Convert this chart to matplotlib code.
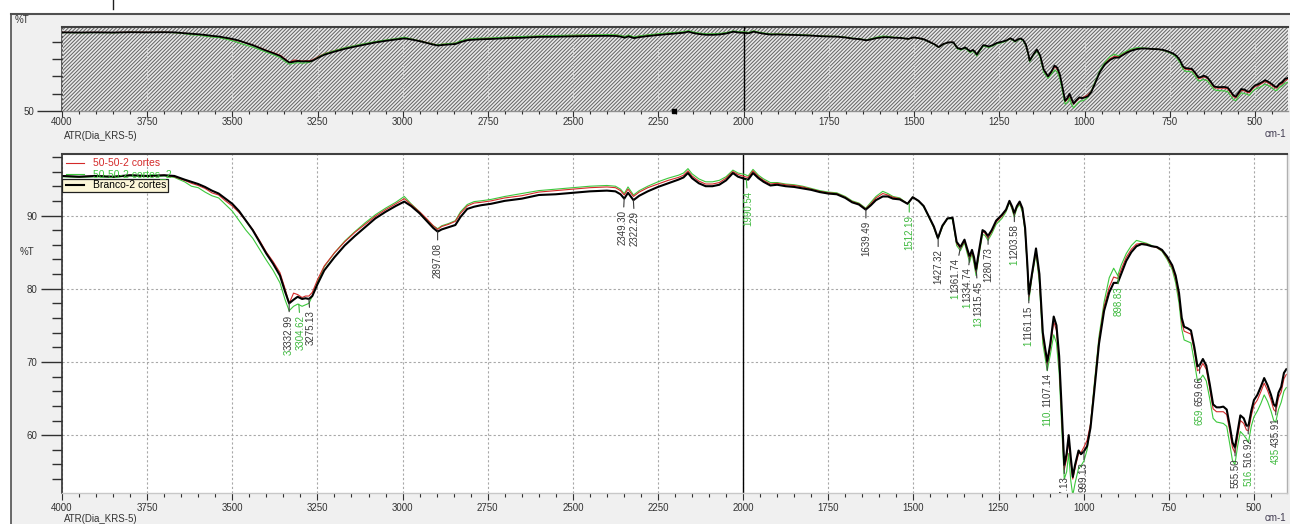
import matplotlib
matplotlib.use('Agg')
import matplotlib.pyplot as plt
import matplotlib.text as mtext
from matplotlib.patches import Rectangle
from matplotlib.lines import Line2D
from matplotlib.ticker import MultipleLocator, FixedLocator, NullFormatter
from matplotlib.transforms import IdentityTransform

plt.rcParams['font.family'] = ['Liberation Sans', 'DejaVu Sans']
plt.rcParams['hatch.linewidth'] = 0.7

# numero de onda (cm-1)
wavenumber = [
    4000, 3950, 3900, 3850, 3800, 3750, 3700, 3670, 3640, 3620,
    3600, 3580, 3560, 3540, 3520, 3500, 3480, 3460, 3440, 3420,
    3400, 3380, 3360, 3345, 3333, 3320, 3308, 3295, 3285, 3275,
    3265, 3250, 3230, 3200, 3170, 3140, 3110, 3080, 3050, 3020,
    2995, 2975, 2950, 2930, 2910, 2897, 2885, 2865, 2845, 2830,
    2810, 2790, 2770, 2740, 2700, 2650, 2600, 2550, 2500, 2450,
    2400, 2375, 2360, 2349, 2338, 2322, 2305, 2280, 2250, 2220,
    2190, 2175, 2162, 2150, 2130, 2110, 2090, 2070, 2050, 2030,
    2015, 1995, 1985, 1971, 1955, 1940, 1920, 1900, 1875, 1850,
    1825, 1800, 1775, 1750, 1725, 1700, 1680, 1660, 1640, 1625,
    1610, 1590, 1575, 1560, 1540, 1517, 1502, 1485, 1470, 1455,
    1440, 1428, 1415, 1400, 1385, 1373, 1362, 1350, 1343, 1335,
    1328, 1322, 1316, 1308, 1297, 1290, 1281, 1270, 1257, 1240,
    1228, 1218, 1210, 1204, 1196, 1188, 1180, 1172, 1165, 1161,
    1152, 1140, 1130, 1120, 1107, 1098, 1088, 1080, 1072, 1065,
    1057, 1050, 1044, 1038, 1032, 1025, 1015, 1008, 999, 990,
    980, 970, 955, 940, 925, 912, 900, 890, 875, 860,
    845, 830, 815, 800, 785, 770, 755, 740, 730, 720,
    712, 705, 695, 685, 675, 666, 659, 650, 640, 630,
    620, 610, 600, 590, 580, 570, 563, 556, 548, 540,
    530, 522, 516, 508, 500, 490, 480, 470, 460, 450,
    442, 436, 428, 420, 412, 405,
]

# %T  50-50-2 cortes (vermelho)
cortes = [
    95.4, 95.3, 95.4, 95.3, 95.5, 95.4, 95.5, 95.3, 94.8, 94.4,
    94.1, 93.7, 93.1, 92.8, 92.0, 91.3, 90.4, 89.3, 88.1, 86.6,
    85.0, 83.7, 82.2, 80.0, 78.0, 79.4, 79.2, 78.8, 79.0, 79.0,
    79.5, 81.2, 83.1, 84.9, 86.4, 87.7, 88.8, 89.9, 90.8, 91.6,
    92.3, 91.5, 90.5, 89.6, 88.6, 88.1, 88.5, 88.8, 89.2, 90.3,
    91.3, 91.7, 91.8, 92.0, 92.4, 92.7, 93.2, 93.4, 93.6, 93.8,
    93.9, 93.8, 93.4, 92.8, 93.6, 92.6, 93.2, 93.8, 94.3, 94.8,
    95.2, 95.5, 96.1, 95.4, 94.7, 94.3, 94.3, 94.5, 95.1, 96.0,
    95.6, 95.3, 95.2, 96.1, 95.3, 94.8, 94.3, 94.4, 94.2, 94.1,
    93.9, 93.6, 93.3, 93.1, 93.0, 92.5, 91.9, 91.6, 90.9, 91.6,
    92.4, 93.0, 92.8, 92.5, 92.3, 91.6, 92.5, 92.0, 91.3, 89.9,
    88.4, 86.9, 88.5, 89.6, 89.6, 86.2, 85.5, 86.5, 85.4, 84.1,
    85.1, 83.9, 82.3, 84.8, 87.8, 87.6, 86.9, 87.8, 89.1, 89.9,
    90.7, 91.9, 91.0, 90.1, 91.2, 91.7, 90.8, 88.1, 82.8, 78.9,
    81.8, 85.2, 81.5, 73.4, 69.7, 72.0, 75.5, 74.3, 70.0, 63.2,
    55.3, 56.8, 59.3, 56.4, 54.0, 55.6, 57.5, 57.6, 58.4, 59.3,
    61.5, 66.0, 73.0, 77.6, 80.2, 81.6, 81.4, 82.6, 84.3, 85.4,
    86.1, 86.2, 86.1, 85.8, 85.6, 85.2, 84.2, 82.9, 81.4, 78.8,
    75.4, 74.2, 74.0, 73.8, 71.5, 68.8, 69.0, 69.8, 69.0, 66.4,
    63.6, 63.2, 63.2, 63.2, 62.8, 60.3, 58.3, 57.6, 59.8, 62.0,
    61.6, 60.7, 60.6, 62.6, 64.1, 64.8, 65.9, 67.1, 66.1, 64.8,
    63.5, 63.2, 65.1, 65.9, 67.7, 68.3,
]

# %T  50-50-2 cortes_2 (verde)
cortes_2 = [
    95.3, 95.2, 95.3, 95.2, 95.4, 95.3, 95.4, 95.2, 94.6, 94.0,
    93.8, 93.2, 92.7, 92.4, 91.5, 90.6, 89.3, 88.0, 86.9, 85.4,
    83.9, 82.5, 80.8, 78.5, 77.0, 77.6, 77.9, 77.6, 77.8, 78.0,
    79.0, 80.9, 83.0, 84.9, 86.5, 87.8, 89.0, 90.1, 91.0, 91.8,
    92.6, 91.6, 90.5, 89.5, 88.6, 88.2, 88.6, 88.9, 89.3, 90.5,
    91.5, 91.9, 92.0, 92.2, 92.6, 93.0, 93.4, 93.6, 93.8, 94.0,
    94.1, 94.0, 93.6, 93.0, 93.9, 92.8, 93.4, 94.0, 94.6, 95.1,
    95.5, 95.8, 96.4, 95.7, 95.0, 94.6, 94.6, 94.8, 95.3, 96.2,
    95.8, 95.6, 95.4, 96.3, 95.5, 95.0, 94.5, 94.5, 94.3, 94.2,
    94.0, 93.7, 93.4, 93.2, 93.1, 92.6, 92.0, 91.7, 91.0, 91.8,
    92.6, 93.3, 93.0, 92.6, 92.4, 91.6, 92.5, 92.0, 91.2, 89.8,
    88.3, 86.8, 88.4, 89.6, 89.5, 85.9, 85.2, 86.3, 85.0, 83.6,
    84.8, 83.4, 81.8, 84.4, 87.4, 87.3, 86.6, 87.5, 88.8, 89.6,
    90.5, 91.8, 90.8, 89.8, 91.0, 91.5, 90.5, 87.8, 82.5, 78.4,
    81.5, 84.8, 80.8, 72.5, 68.8, 71.0, 73.7, 72.6, 68.5, 61.5,
    54.0, 55.0, 57.5, 53.8, 51.8, 53.5, 55.5, 55.8, 56.5, 58.0,
    61.5, 66.5, 73.5, 78.2, 81.5, 82.8, 81.8, 83.2, 84.8, 85.9,
    86.6, 86.4, 86.2, 85.9, 85.6, 85.1, 84.0, 82.6, 80.8, 78.0,
    74.5, 73.0, 72.8, 72.6, 70.0, 67.4, 67.6, 68.2, 67.4, 65.0,
    62.3, 61.8, 61.7, 61.6, 61.2, 58.5, 56.5, 56.0, 58.5, 60.5,
    60.0, 59.5, 59.0, 61.2, 62.5, 63.3, 64.3, 65.5, 64.6, 63.3,
    62.0, 61.8, 63.5, 64.5, 66.0, 66.5,
]

# %T  Branco-2 cortes (preto)
branco = [
    95.4, 95.3, 95.4, 95.3, 95.5, 95.4, 95.5, 95.4, 94.9, 94.6,
    94.3, 93.9, 93.4, 93.0, 92.3, 91.6, 90.6, 89.3, 88.0, 86.4,
    84.8, 83.4, 81.8, 79.6, 78.0, 78.5, 78.9, 78.6, 78.7, 78.6,
    79.0, 80.6, 82.5, 84.3, 85.9, 87.2, 88.4, 89.6, 90.5, 91.3,
    91.9, 91.3, 90.3, 89.3, 88.3, 87.8, 88.1, 88.4, 88.7, 89.8,
    90.9, 91.2, 91.4, 91.6, 92.0, 92.3, 92.8, 92.9, 93.1, 93.3,
    93.4, 93.3, 92.9, 92.3, 93.1, 92.1, 92.7, 93.3, 93.9, 94.4,
    94.9, 95.2, 95.8, 95.1, 94.4, 94.0, 94.0, 94.2, 94.8, 95.8,
    95.3, 95.0, 94.9, 95.8, 95.1, 94.6, 94.1, 94.2, 94.0, 93.9,
    93.7, 93.5, 93.2, 93.0, 92.9, 92.4, 91.8, 91.5, 90.8, 91.4,
    92.1, 92.6, 92.6, 92.3, 92.2, 91.6, 92.5, 92.0, 91.3, 89.9,
    88.5, 86.9, 88.6, 89.6, 89.7, 86.4, 85.7, 86.7, 85.6, 84.4,
    85.3, 84.3, 82.6, 85.0, 88.0, 87.8, 87.2, 88.0, 89.3, 90.1,
    90.8, 92.0, 91.2, 90.3, 91.3, 91.9, 91.0, 88.3, 83.0, 79.2,
    82.0, 85.5, 82.0, 74.0, 70.0, 72.5, 76.2, 75.0, 70.8, 64.0,
    55.9, 57.5, 60.0, 57.0, 54.3, 56.0, 57.9, 57.4, 57.8, 58.5,
    61.0, 65.5, 72.5, 77.0, 79.5, 80.8, 80.8, 82.0, 83.8, 85.0,
    85.8, 86.1, 86.0, 85.8, 85.7, 85.3, 84.4, 83.2, 81.8, 79.4,
    76.0, 74.8, 74.6, 74.3, 72.0, 69.4, 69.6, 70.4, 69.5, 67.0,
    64.2, 63.8, 63.8, 63.9, 63.5, 61.0, 59.0, 58.3, 60.5, 62.7,
    62.3, 61.3, 61.3, 63.3, 64.8, 65.5, 66.6, 67.8, 66.8, 65.5,
    64.2, 63.9, 65.8, 66.6, 68.5, 69.0,
]

# picos marcados (preto)
black_peak_x = [3332.99, 3275.13, 2897.08, 2349.30, 2322.29, 1639.49, 1427.32,
                1361.74, 1334.74, 1315.45, 1280.73, 1203.58, 1161.15, 1107.14,
                1057.13, 999.13, 659.66, 555.50, 516.92, 435.91]
black_peak_T = [78.0, 78.6, 87.8, 92.3, 92.1, 90.8, 86.9,
                85.7, 84.4, 82.6, 87.2, 90.3, 79.2, 70.0,
                55.9, 57.8, 69.6, 58.3, 61.3, 63.9]
# picos marcados (verde) que aparecem inteiros
green_peak_x = [3304.62, 1990.54, 1512.19, 898.83]
green_peak_T = [77.9, 94.9, 91.6, 81.8]
# pedacos dos rotulos verdes que aparecem embaixo dos rotulos pretos
green_tail = {'3332.99': '3', '1361.74': '1', '1334.74': '1', '1315.45': '13',
              '1203.58': '1', '1161.15': '1', '1107.14': '110.', '659.66': '659.',
              '516.92': '516.', '435.91': '435'}

series_names = ['50-50-2 cortes', '50-50-2 cortes_2', 'Branco-2 cortes']
cursor_x = 2000
marker_x = 2204

RED = '#d42a2a'
GREEN = '#3cc83c'
BLACK = '#000000'
LBL_BLACK = '#3a3a3a'
LBL_GREEN = '#3cb83c'

W, H = 1290, 524
fig = plt.figure(figsize=(W / 100, H / 100), dpi=100, facecolor='white')


def fx(px):
    return px / W


def fy(py):
    return 1 - py / H


# fundo da janela
fig.add_artist(Rectangle((fx(11), 0), 1 - fx(11), fy(14), transform=fig.transFigure,
                         facecolor='#f0f0f0', edgecolor='none', zorder=-10))
fig.add_artist(Line2D([fx(11), fx(11)], [0, fy(14)], color='#505050', lw=1.2))
fig.add_artist(Line2D([fx(11), 1], [fy(14), fy(14)], color='#505050', lw=1.5))
fig.add_artist(Line2D([fx(113), fx(113)], [fy(0), fy(9)], color='#202020', lw=1))

ax_top = fig.add_axes([fx(62), fy(111), fx(1288) - fx(62), fy(27) - fy(111)])
ax = fig.add_axes([fx(62), fy(493), fx(1287) - fx(62), fy(154) - fy(493)])

# ---------- painel superior (visao geral) ----------
ax_top.set_facecolor('white')
ax_top.add_patch(Rectangle((0, 0), 1, 1, transform=ax_top.transAxes, facecolor='#e8e8e8',
                           edgecolor='#626262', hatch='/////////', lw=0, zorder=0.5))
ax_top.plot(wavenumber, cortes, color=RED, lw=0.8, zorder=3)
ax_top.plot(wavenumber, cortes_2, color=GREEN, lw=0.8, zorder=3)
ax_top.plot(wavenumber, branco, color=BLACK, lw=1.3, zorder=4)
ax_top.axvline(cursor_x, color='black', lw=1, zorder=2.8)
ax_top.plot([marker_x], [50.2], 's', color='black', ms=3.5, clip_on=False, zorder=6)
ax_top.set_xlim(4000, 403)
ax_top.set_ylim(50, 98.5)
ax_top.xaxis.set_major_locator(MultipleLocator(250))
ax_top.xaxis.set_minor_locator(MultipleLocator(50))
ax_top.yaxis.set_major_locator(FixedLocator([50]))
ax_top.yaxis.set_minor_locator(FixedLocator([60, 70, 80, 90]))
ax_top.yaxis.set_minor_formatter(NullFormatter())
ax_top.grid(True, axis='x', which='major', color='#d0d0d0', linestyle=(0, (2, 2)), lw=0.8)
ax_top.set_axisbelow(False)
ax_top.tick_params(axis='y', which='major', length=18, width=1, color='#303030', pad=2,
                   labelsize=7, labelcolor='#333333')
ax_top.tick_params(axis='y', which='minor', length=7.2, width=1, color='#303030')
ax_top.tick_params(axis='x', which='major', length=4, width=0.8, color='#303030', pad=0.5,
                   labelsize=7, labelcolor='#333333')
ax_top.tick_params(axis='x', which='minor', length=2.5, width=0.8, color='#303030')
ax_top.spines['top'].set(color='#404040', lw=1.5)
ax_top.spines['left'].set(color='#404040', lw=1.2)
ax_top.spines['right'].set_visible(False)
ax_top.spines['bottom'].set(color='#909090', lw=1, linestyle=(0, (1, 1)))

fig.text(fx(15), fy(20), '%T', fontsize=7, color='#333333', va='center')
fig.text(fx(64), fy(136), 'ATR(Dia_KRS-5)', fontsize=7, color='#333333', va='center')
fig.text(fx(1286), fy(134), 'cm-1', fontsize=7, color='#403a50', va='center', ha='right')

# ---------- painel principal ----------
ax.set_facecolor('white')
ax.plot(wavenumber, cortes, color=RED, lw=0.8, zorder=2.1, label=series_names[0])
ax.plot(wavenumber, cortes_2, color=GREEN, lw=0.8, zorder=2.0, label=series_names[1])
ax.plot(wavenumber, branco, color=BLACK, lw=1.5, zorder=2.2, label=series_names[2])
ax.axvline(cursor_x, color='black', lw=1, zorder=1.8)
ax.set_xlim(4000, 403)
ax.set_ylim(52.1, 98.4)
ax.xaxis.set_major_locator(MultipleLocator(250))
ax.xaxis.set_minor_locator(MultipleLocator(50))
ax.yaxis.set_major_locator(FixedLocator([60, 70, 80, 90]))
ax.yaxis.set_minor_locator(MultipleLocator(2))
ax.grid(True, which='major', color='#a8a8a8', linestyle=(0, (2, 2)), lw=0.8)
ax.tick_params(axis='y', which='major', length=15, width=1, color='#303030', pad=3,
               labelsize=7, labelcolor='#333333')
ax.tick_params(axis='y', which='minor', length=7.2, width=1, color='#303030')
ax.tick_params(axis='x', which='major', length=5, width=0.8, color='#303030', pad=2,
               labelsize=7, labelcolor='#333333')
ax.tick_params(axis='x', which='minor', length=3, width=0.8, color='#303030')
ax.spines['top'].set(color='#404040', lw=1.5)
ax.spines['left'].set(color='#303030', lw=1.2)
ax.spines['right'].set(color='#b0b0b0', lw=1)
ax.spines['bottom'].set(color='#c8c8c8', lw=1)

fig.text(fx(20), fy(252), '%T', fontsize=7, color='#333333', va='center')
fig.text(fx(64), fy(519), 'ATR(Dia_KRS-5)', fontsize=7, color='#333333', va='center')
fig.text(fx(1286), fy(518), 'cm-1', fontsize=7, color='#403a50', va='center', ha='right')

# deslocamentos horizontais dos rotulos apertados (pontos)
shift = {'1361.74': -4.0, '1334.74': -2.0, '1315.45': 1.5, '3275.13': 1.5, '3304.62': 1.5,
         '2349.30': -1.0, '2322.29': 1.2, '1990.54': 1.5}

for x, t in zip(green_peak_x, green_peak_T):
    s = f'{x:.2f}'
    ax.annotate(s, xy=(x, t), xytext=(shift.get(s, 0), -8), textcoords='offset points',
                rotation=90, ha='center', va='top', fontsize=7, color=LBL_GREEN,
                arrowprops=dict(arrowstyle='-', color=LBL_GREEN, lw=0.8, shrinkA=0, shrinkB=0),
                clip_on=True, zorder=3)

black_labels = []
for x, t in zip(black_peak_x, black_peak_T):
    s = f'{x:.2f}'
    a = ax.annotate(s, xy=(x, t), xytext=(shift.get(s, 0), -8), textcoords='offset points',
                    rotation=90, ha='center', va='top', fontsize=7, color=LBL_BLACK,
                    arrowprops=dict(arrowstyle='-', color=LBL_BLACK, lw=0.8, shrinkA=0, shrinkB=0),
                    clip_on=True, zorder=3.5)
    black_labels.append((s, a))

leg = ax.legend(loc='upper left', bbox_to_anchor=(0.0, 1.0), frameon=False, fontsize=7.5,
                labelcolor='linecolor', handlelength=1.7, handletextpad=0.85,
                labelspacing=0.1, borderaxespad=0.2, borderpad=0.2)
leg.set_zorder(6)

fig.canvas.draw()
rend = fig.canvas.get_renderer()

# caixa do item selecionado na legenda
tb = leg.get_texts()[2].get_window_extent(rend)
hb = leg.legend_handles[2].get_window_extent(rend)
x0 = hb.x0 - 4
ax.add_artist(Rectangle((x0, tb.y0 - 1.5), tb.x1 + 2 - x0, tb.height + 3,
                        transform=IdentityTransform(), facecolor='#fcf6d8',
                        edgecolor='#202020', lw=0.9, zorder=5.5))

# restos dos rotulos verdes, logo abaixo dos rotulos pretos
for s, a in black_labels:
    if s in green_tail:
        bb = mtext.Text.get_window_extent(a, rend)
        ax.text((bb.x0 + bb.x1) / 2, bb.y0 - 0.5, green_tail[s], transform=IdentityTransform(),
                rotation=90, ha='center', va='top', fontsize=7, color=LBL_GREEN,
                clip_on=True, zorder=3)

fig.savefig('out.png', dpi=100, facecolor=fig.get_facecolor())
